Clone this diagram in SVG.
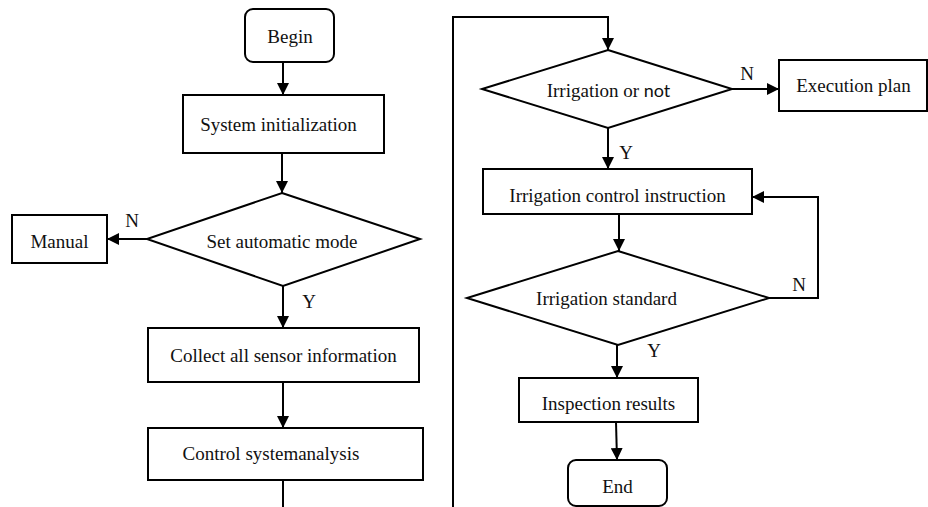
<svg xmlns="http://www.w3.org/2000/svg" width="928" height="507" viewBox="0 0 928 507">
<defs>
<marker id="ah" markerUnits="userSpaceOnUse" markerWidth="12" markerHeight="12" refX="12" refY="6" orient="auto">
<path d="M0,0 L12,6 L0,12 z" fill="#000"/>
</marker>
<style>
.s{fill:#fff;stroke:#000;stroke-width:2}
.t{font-family:"Liberation Serif","Times New Roman",serif;font-size:19px;fill:#111;text-anchor:middle}
.c{fill:none;stroke:#000;stroke-width:2}
</style>
</defs>
<rect width="928" height="507" fill="#fff"/>
<g id="begin"><rect class="s" x="245" y="9" width="89" height="53" rx="8"/><text class="t" x="290" y="43">Begin</text></g>
<g id="init"><rect class="s" x="183" y="95" width="201" height="58"/><text class="t" x="278.5" y="131">System initialization</text></g>
<g id="auto"><polygon class="s" points="282,193 420,239 283,286 147,239"/><text class="t" x="282" y="248">Set automatic mode</text></g>
<g id="manual"><rect class="s" x="12" y="215" width="95" height="48"/><text class="t" x="59.5" y="248">Manual</text></g>
<g id="collect"><rect class="s" x="148" y="328" width="271" height="54"/><text class="t" x="283.5" y="362">Collect all sensor information</text></g>
<g id="control"><rect class="s" x="148" y="428" width="275" height="52"/><text class="t" x="271" y="460">Control systemanalysis</text></g>
<g id="irrig"><polygon class="s" points="608,50 732,89 608,128 482,89"/><text class="t" x="608.5" y="97">Irrigation or <tspan style="font-family:Lato,'Liberation Sans',sans-serif;font-size:18px">not</tspan></text></g>
<g id="exec"><rect class="s" x="779" y="60" width="148" height="51"/><text class="t" x="853.5" y="92">Execution plan</text></g>
<g id="instr"><rect class="s" x="483" y="169" width="269" height="45"/><text class="t" x="617.5" y="202">Irrigation control instruction</text></g>
<g id="std"><polygon class="s" points="618,251 769,298 618,345 467,298"/><text class="t" x="606.5" y="305">Irrigation standard</text></g>
<g id="insp"><rect class="s" x="519" y="378" width="179" height="44"/><text class="t" x="608.5" y="410">Inspection results</text></g>
<g id="end"><rect class="s" x="568" y="460" width="99" height="46" rx="8"/><text class="t" x="617.5" y="493">End</text></g>
<g id="connectors">
<path class="c" d="M283,62 V95" marker-end="url(#ah)"/>
<path class="c" d="M282,153 V193" marker-end="url(#ah)"/>
<path class="c" d="M147,239 H107" marker-end="url(#ah)"/>
<path class="c" d="M283,286 V328" marker-end="url(#ah)"/>
<path class="c" d="M283,382 V428" marker-end="url(#ah)"/>
<path class="c" d="M283,480 V507"/>
<path class="c" d="M453,507 V17 H608 V50" marker-end="url(#ah)"/>
<path class="c" d="M732,89 H779" marker-end="url(#ah)"/>
<path class="c" d="M608,128 V169" marker-end="url(#ah)"/>
<path class="c" d="M619,214 V251" marker-end="url(#ah)"/>
<path class="c" d="M769,298 H818 V197 H752" marker-end="url(#ah)"/>
<path class="c" d="M617,345 V378" marker-end="url(#ah)"/>
<path class="c" d="M616,422 L617,460" marker-end="url(#ah)"/>
<text class="t" x="132" y="227">N</text>
<text class="t" x="309" y="308">Y</text>
<text class="t" x="747" y="80">N</text>
<text class="t" x="626" y="159">Y</text>
<text class="t" x="799" y="291">N</text>
<text class="t" x="654" y="357">Y</text>
</g>
</svg>
